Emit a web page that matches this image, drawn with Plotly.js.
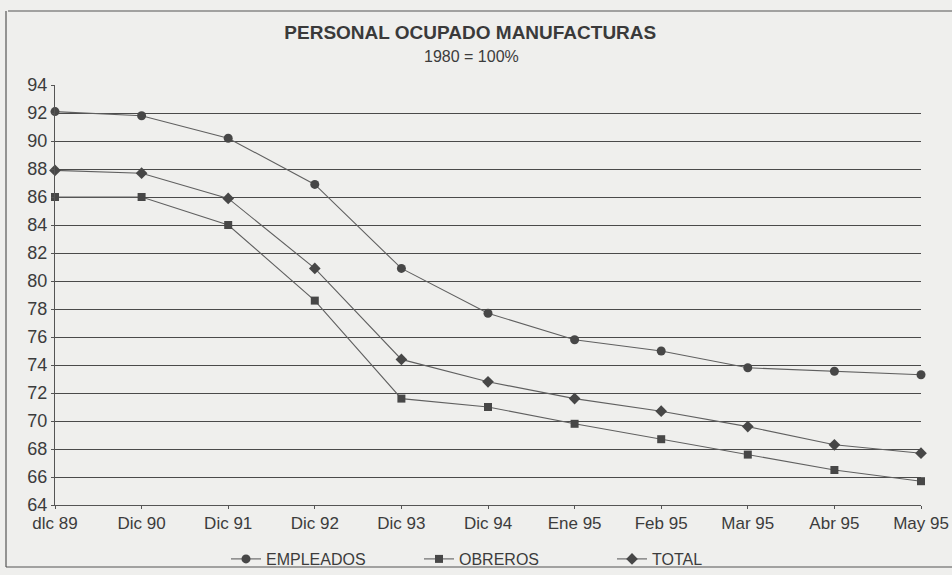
<!DOCTYPE html>
<html>
<head>
<meta charset="utf-8">
<script src="https://cdn.plot.ly/plotly-3.0.1.min.js"></script>
<style>html,body{margin:0;padding:0;background:#efefed;}#chart{width:952px;height:575px;}</style>
</head>
<body>
<div id="chart"></div>
<script>
const categories = ["dlc 89","Dic 90","Dic 91","Dic 92","Dic 93","Dic 94","Ene 95","Feb 95","Mar 95","Abr 95","May 95"];
const empleados = [92.1, 91.8, 90.2, 86.9, 80.9, 77.7, 75.8, 75.0, 73.8, 73.55, 73.3];
const obreros   = [86.0, 86.0, 84.0, 78.6, 71.6, 71.0, 69.8, 68.7, 67.6, 66.5, 65.7];
const total     = [87.9, 87.7, 85.9, 80.9, 74.4, 72.8, 71.6, 70.7, 69.6, 68.3, 67.7];
const yTicks = [64,66,68,70,72,74,76,78,80,82,84,86,88,90,92,94];

const lineCol = '#606060', markCol = '#474747';
function tr(name, y, sym, size){
  return {x: categories, y: y, name: name, type:'scatter', mode:'lines+markers', cliponaxis:false,
    line:{color:lineCol, width:1.1}, marker:{symbol:sym, size:size, color:markCol}};
}
const data = [tr('EMPLEADOS', empleados, 'circle', 9), tr('OBREROS', obreros, 'square', 8), tr('TOTAL', total, 'diamond', 9)];

const layout = {
  width:952, height:575,
  paper_bgcolor:'#efefed', plot_bgcolor:'#efefed',
  margin:{l:55, r:31, t:85, b:70},
  font:{family:'Liberation Sans, Arial, sans-serif', color:'#3c3c3c', size:16},
  title:{text:'<b>PERSONAL OCUPADO MANUFACTURAS</b>', font:{size:19, color:'#3a3a3a'}, x:0.494, xanchor:'center', y:1-32/575, yanchor:'middle'},
  annotations:[{text:'1980 = 100%', xref:'paper', yref:'paper', x:(471-55)/866, y:(505-56)/420, xanchor:'center', yanchor:'middle', showarrow:false, font:{size:16, color:'#3c3c3c'}}],
  xaxis:{type:'category', range:[0,10], showgrid:false, showline:true, linecolor:'#555', linewidth:1, ticks:'outside', ticklen:3, tickcolor:'#555', tickfont:{size:17}, zeroline:false, fixedrange:true},
  yaxis:{range:[64,94], tickvals:yTicks, showgrid:true, gridcolor:'#4a4a4a', gridwidth:1, showline:true, linecolor:'#555', linewidth:1, ticks:'outside', ticklen:3, tickcolor:'#555', tickfont:{size:18}, zeroline:false, fixedrange:true},
  legend:{orientation:'h', xref:'container', yref:'container', x:226/952, xanchor:'left', y:1-559/575, yanchor:'middle', font:{size:16}, entrywidth:148, bgcolor:'rgba(0,0,0,0)'},
  shapes:[
    {type:'line', xref:'paper', yref:'paper', x0:(8-55)/866, x1:1.1, y0:(505-11)/420, y1:(505-11)/420, line:{color:'#555', width:1.2}},
    {type:'line', xref:'paper', yref:'paper', x0:(6-55)/866, x1:(6-55)/866, y0:(505-11)/420, y1:(505-567)/420, line:{color:'#555', width:1.2}},
    {type:'line', xref:'paper', yref:'paper', x0:(6-55)/866, x1:1.1, y0:(505-567)/420, y1:(505-567)/420, line:{color:'#555', width:1.2}}
  ]
};
Plotly.newPlot('chart', data, layout, {displayModeBar:false, staticPlot:true});
</script>
</body>
</html>
